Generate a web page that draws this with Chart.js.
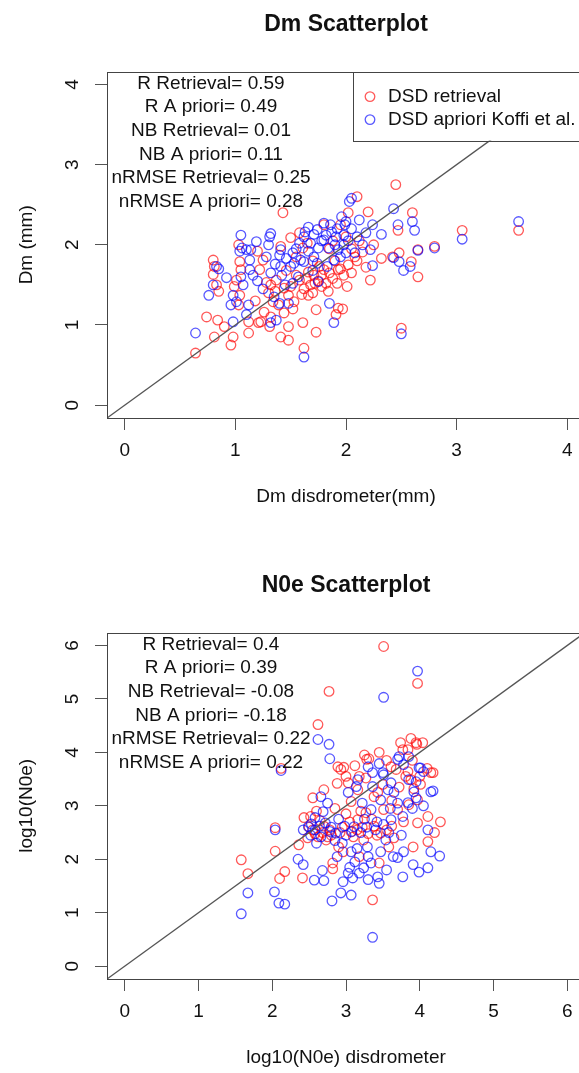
<!DOCTYPE html>
<html>
<head>
<meta charset="utf-8">
<script src="https://cdn.jsdelivr.net/npm/chart.js@4.4.1/dist/chart.umd.min.js"></script>
<style>
  html, body { margin: 0; padding: 0; background: #fff; overflow: hidden; width: 579px; height: 1073px; }
  canvas { position: absolute; left: 0; }
  #dmChart { top: 0; }
  #n0eChart { top: 561px; }
</style>
</head>
<body>
<canvas id="dmChart" width="600" height="560"></canvas>
<canvas id="n0eChart" width="600" height="560"></canvas>
<script>
// ---- Dm panel ----
const dmTicks = [0, 1, 2, 3, 4];
const dmRetrieval = [
  [0.64,0.65],[0.81,0.85],[0.74,1.1],[0.84,1.06],[0.96,0.75],[0.98,0.85],[0.9,0.98],[0.8,1.81],[0.81,1.73],[0.8,1.63],
  [0.83,1.5],[0.85,1.42],[1.03,2.0],[1.04,1.79],[1.05,1.69],[1.01,1.56],[0.99,1.48],[1.04,1.37],[1.03,1.25],[1.12,1.04],
  [1.12,0.9],[1.23,1.04],[1.2,1.92],[1.25,1.81],[1.22,1.69],[1.28,1.53],[1.3,1.4],[1.34,1.29],[1.32,1.1],[1.41,0.85],
  [1.48,0.81],[1.43,2.4],[1.62,0.71],[1.73,1.19],[1.73,0.91],[1.93,1.21],[1.91,1.13],[2.02,2.4],[1.58,2.15],[1.5,2.09],
  [1.41,1.98],[1.61,1.96],[1.55,1.85],[1.32,1.5],[1.37,1.56],[1.44,1.46],[1.5,1.48],[1.58,1.56],[1.66,1.66],[1.71,1.62],
  [1.76,1.73],[1.8,1.69],[1.85,1.65],[1.93,1.69],[1.98,1.62],[1.66,1.37],[1.7,1.4],[1.48,1.37],[1.53,1.29],[1.39,1.25],
  [1.44,1.15],[1.26,1.16],[1.21,1.03],[1.48,0.98],[1.31,0.98],[1.84,1.42],[1.78,1.48],[1.61,1.03],[1.75,1.55],[1.82,1.52],
  [1.88,1.58],[1.95,1.7],[1.68,1.5],[1.62,1.45],[1.9,1.8],[1.85,1.95],[1.7,1.8],[1.65,2.02],[1.95,2.25],[1.8,2.25],
  [2.45,2.75],[2.1,2.6],[2.2,2.41],[2.6,2.4],[2.47,2.18],[3.05,2.18],[3.56,2.18],[2.8,1.98],[2.48,1.9],[2.65,1.94],
  [2.32,1.83],[2.42,1.85],[2.59,1.79],[2.65,1.6],[2.22,1.56],[2.05,1.65],[2.01,1.48],[1.97,1.2],[2.5,0.96],[2.15,1.91],
  [2.05,1.95],[2.1,1.8],[2.0,2.1],[2.12,2.05],[1.55,1.62],[1.6,1.38],[1.64,1.58],[1.72,1.52],[1.78,1.62],[2.02,1.75],
  [2.08,1.85],[2.18,1.72],[1.92,1.52],[1.46,1.68],[1.36,1.42],[1.18,1.3],[1.52,1.2],[2.25,2.0],[1.88,2.05]
];
const dmApriori = [
  [0.64,0.9],[0.76,1.37],[0.8,1.5],[0.83,1.73],[0.85,1.7],[0.92,1.59],[0.98,1.37],[0.96,1.25],[1.01,1.29],[1.12,1.25],
  [1.1,1.13],[0.98,1.04],[1.05,2.12],[1.04,1.92],[1.1,1.94],[1.14,1.94],[1.19,2.04],[1.31,2.1],[1.32,2.14],[1.3,2.0],
  [1.13,1.81],[1.13,1.69],[1.05,1.6],[1.07,1.5],[1.41,1.94],[1.4,1.87],[1.41,1.73],[1.32,1.65],[1.35,1.35],[1.4,1.27],
  [1.37,1.06],[1.32,1.03],[1.48,1.27],[1.5,1.73],[1.53,1.77],[1.59,1.81],[1.62,2.1],[1.63,2.16],[1.71,2.13],[1.74,2.19],
  [1.8,2.27],[1.86,2.25],[1.87,2.16],[1.91,2.1],[1.98,2.12],[1.99,2.25],[2.0,2.29],[2.03,2.54],[1.8,2.06],[1.75,1.96],
  [1.84,1.96],[1.93,1.94],[1.98,2.0],[1.66,1.92],[1.62,1.79],[1.71,1.85],[1.74,1.77],[1.83,1.73],[1.89,1.81],[1.57,1.6],
  [1.75,1.54],[1.85,1.27],[1.89,1.03],[1.62,0.6],[1.06,1.96],[1.25,1.45],[1.2,1.55],[1.45,1.5],[1.55,1.95],[1.68,2.02],
  [1.95,1.85],[2.0,1.9],[1.78,2.05],[1.9,2.0],[2.05,2.58],[2.43,2.45],[2.12,2.31],[2.47,2.25],[2.6,2.29],[2.62,2.18],
  [3.05,2.07],[3.56,2.29],[2.8,1.96],[2.24,2.25],[2.32,2.13],[2.65,1.93],[2.43,1.84],[2.48,1.79],[2.58,1.73],[2.52,1.68],
  [2.24,1.74],[2.5,0.89],[2.22,1.94],[2.1,2.1],[2.15,2.0],[2.05,2.2],[2.08,1.9],[1.36,1.76],[1.42,1.62],[1.46,1.83],
  [1.52,1.9],[1.58,2.02],[1.66,2.22],[1.82,2.12],[1.92,2.2],[2.02,2.05],[1.96,2.35],[1.7,1.68],[1.28,1.85],[1.16,1.62],
  [1.52,1.52],[2.18,2.15]
];
const dmStats = [
  'R Retrieval= 0.59', 'R A priori= 0.49', 'NB Retrieval= 0.01',
  'NB A priori= 0.11', 'nRMSE Retrieval= 0.25', 'nRMSE A priori= 0.28'
];

// ---- N0e panel ----
const n0eTicks = [0, 1, 2, 3, 4, 5, 6];
const n0eRetrieval = [
  [1.58,1.99],[1.67,1.73],[2.04,2.59],[2.04,2.15],[2.17,1.77],[2.1,1.64],[2.12,3.7],[2.36,2.27],[2.41,1.65],[2.82,1.82],
  [3.36,1.24],[3.45,1.93],[3.91,2.23],[4.11,2.33],[4.28,2.7],[4.11,2.8],[3.97,2.68],[4.18,3.62],[4.04,4.18],[3.95,4.18],
  [3.74,4.18],[3.84,4.05],[3.45,4.0],[3.28,3.87],[2.93,3.68],[3.0,3.55],[2.7,3.3],[2.55,3.15],[2.43,2.78],[2.73,2.36],
  [2.9,2.23],[2.96,2.14],[3.07,2.51],[3.16,2.74],[3.27,2.87],[3.07,3.08],[3.03,3.43],[3.16,3.3],[3.27,3.52],[3.61,3.73],
  [3.84,3.64],[3.88,3.49],[3.97,3.11],[3.7,2.93],[3.78,2.7],[3.51,2.93],[3.38,3.17],[3.47,2.49],[3.58,2.23],[3.24,2.36],
  [3.18,2.05],[2.82,1.93],[2.62,4.52],[2.77,5.14],[3.51,5.98],[3.97,5.29],[2.89,3.73],[3.88,4.26],[3.96,4.15],[3.77,4.05],
  [3.31,3.88],[2.97,3.72],[4.15,3.62],[3.18,3.55],[3.68,3.68],[3.81,3.55],[4.01,3.4],[3.92,3.32],[3.43,3.25],[2.5,2.6],
  [2.58,2.48],[2.65,2.72],[2.78,2.55],[2.85,2.95],[2.6,2.9],[2.95,2.6],[3.0,2.85],[3.1,2.42],[3.22,2.6],[3.35,2.75],
  [3.42,2.45],[3.55,2.55],[3.62,3.1],[3.72,3.35],[3.9,3.85],[4.1,3.7],[3.5,3.4],[3.55,3.85],[3.25,3.95],[2.88,3.42],
  [2.75,2.42],[2.48,2.4],[3.65,2.4],[4.2,2.5],[3.12,3.75],[2.68,2.5],[2.55,2.55],[2.62,2.42],[2.7,2.62],[2.8,2.45],
  [2.92,2.5],[3.05,2.7],[3.15,2.55],[3.3,2.48],[3.38,2.62],[3.62,2.62],[3.85,3.02],[4.0,3.55],[2.52,2.8],[3.2,2.9]
];
const n0eApriori = [
  [1.58,0.98],[1.67,1.37],[2.03,1.39],[2.09,1.18],[2.17,1.16],[2.04,2.55],[2.12,3.66],[2.35,2.0],[2.42,1.9],[2.57,1.61],
  [2.7,1.6],[2.68,1.79],[2.81,1.22],[2.93,1.37],[3.07,1.33],[3.36,0.54],[2.96,1.58],[3.03,1.74],[3.09,1.65],[3.18,1.74],
  [3.24,1.84],[3.43,1.67],[3.34,1.93],[3.7,2.03],[3.77,1.67],[3.91,1.9],[3.99,1.76],[4.11,1.84],[4.15,2.14],[4.27,2.06],
  [3.78,2.14],[3.64,2.05],[4.11,2.55],[4.18,3.28],[2.62,4.24],[2.77,4.15],[2.78,3.88],[3.51,5.03],[3.97,5.52],[2.66,3.17],
  [2.53,2.66],[2.42,2.55],[2.69,2.89],[2.8,2.6],[2.86,2.49],[3.11,2.61],[3.34,2.93],[3.03,3.25],[3.16,3.49],[3.36,3.62],
  [3.51,3.58],[3.7,3.87],[3.78,3.77],[3.99,3.71],[4.05,3.64],[3.92,3.26],[3.84,3.06],[3.77,2.8],[3.61,2.74],[3.47,3.11],
  [3.57,3.3],[3.51,2.65],[3.54,2.36],[3.47,2.14],[3.29,2.23],[3.07,2.14],[2.66,2.42],[2.49,2.61],[3.85,3.92],[3.72,3.92],
  [3.45,3.79],[3.3,3.73],[4.01,3.71],[3.5,3.62],[4.15,3.26],[3.14,3.36],[3.85,3.49],[3.61,3.43],[3.36,3.36],[3.65,3.25],
  [2.58,2.55],[2.72,2.68],[2.9,2.75],[3.0,2.45],[3.2,2.5],[3.25,2.75],[3.4,2.55],[3.6,2.95],[3.75,2.45],[3.9,2.95],
  [2.95,2.3],[3.15,2.2],[2.6,2.3],[3.45,1.55],[3.3,2.05],[3.05,1.85],[3.55,1.8],[3.22,3.05],[2.75,3.05],[3.95,3.45],
  [4.05,3.0],[2.88,2.05],[2.52,2.45],[2.64,2.62],[2.78,2.52],[2.98,2.62],[3.08,2.52],[3.28,2.6],[3.42,2.7],[3.58,2.5],
  [3.7,3.05],[3.95,3.15],[2.85,2.35],[3.3,1.62],[3.12,1.95],[2.58,2.78]
];
const n0eStats = [
  'R Retrieval= 0.4', 'R A priori= 0.39', 'NB Retrieval= -0.08',
  'NB A priori= -0.18', 'nRMSE Retrieval= 0.22', 'nRMSE A priori= 0.22'
];

const legendLabels = ['DSD retrieval', 'DSD apriori Koffi et al.'];

const FONT = '"Liberation Sans", Arial, Helvetica, sans-serif';
const RED = 'rgba(255,0,0,0.65)';
const BLUE = 'rgba(0,0,255,0.65)';

// frame, stats text and (optionally) the legend, drawn R-style
function panelDecor(stats, withLegend) {
  return {
    id: 'panelDecor',
    afterDraw(chart) {
      const { ctx, chartArea: a } = chart;
      ctx.save();
      ctx.strokeStyle = '#444';
      ctx.lineWidth = 1;
      ctx.strokeRect(Math.round(a.left) + 0.5, Math.round(a.top) + 0.5,
        Math.round(a.right - a.left), Math.round(a.bottom - a.top));

      ctx.fillStyle = '#111';
      ctx.font = '19px ' + FONT;
      ctx.textAlign = 'center';
      ctx.textBaseline = 'middle';
      stats.forEach((s, i) => ctx.fillText(s, a.left + 104, a.top + 12 + i * 23.6));

      if (withLegend) {
        const lx = a.left + 246, ly = a.top, lh = 69;
        ctx.fillStyle = '#fff';
        ctx.fillRect(lx, ly, a.right - lx, lh);
        ctx.strokeRect(Math.round(lx) + 0.5, Math.round(ly) + 0.5, Math.round(a.right - lx), lh);
        [RED, BLUE].forEach((c, i) => {
          const cy = ly + 25 + i * 23;
          ctx.beginPath();
          ctx.strokeStyle = c;
          ctx.lineWidth = 1.3;
          ctx.arc(lx + 17, cy, 4.8, 0, Math.PI * 2);
          ctx.stroke();
          ctx.fillStyle = '#111';
          ctx.textAlign = 'left';
          ctx.fillText(legendLabels[i], lx + 35, cy);
        });
      }
      ctx.restore();
    }
  };
}

function makePanel(id, ticks, retrieval, apriori, stats, title, xTitle, yTitle, withLegend) {
  const span = ticks[ticks.length - 1] - ticks[0];
  const lo = ticks[0] - 0.04 * span;
  const hi = ticks[ticks.length - 1] + 0.04 * span;
  const toPts = arr => arr.map(([x, y]) => ({ x, y }));
  const pointStyle = c => ({
    borderColor: c, backgroundColor: 'rgba(0,0,0,0)', pointStyle: 'circle',
    pointRadius: 4.8, pointHoverRadius: 4.8, borderWidth: 1.3
  });
  const axisCommon = {
    type: 'linear', min: lo, max: hi,
    afterBuildTicks: s => { s.ticks = ticks.map(v => ({ value: v })); },
    grid: { drawOnChartArea: false, drawTicks: true, tickLength: 12, color: '#555', lineWidth: 1 },
    border: { display: false }
  };

  return new Chart(document.getElementById(id), {
    type: 'scatter',
    data: {
      datasets: [
        { label: '1:1', data: [{ x: lo, y: lo }, { x: hi, y: hi }], showLine: true,
          borderColor: '#555', borderWidth: 1.3, pointRadius: 0, order: 0 },
        Object.assign({ label: legendLabels[1], data: toPts(apriori), order: 1 }, pointStyle(BLUE)),
        Object.assign({ label: legendLabels[0], data: toPts(retrieval), order: 2 }, pointStyle(RED))
      ]
    },
    options: {
      responsive: false,
      animation: false,
      layout: { padding: { left: 0, right: 15, top: 0, bottom: 0 } },
      plugins: {
        legend: { display: false },
        tooltip: { enabled: false },
        title: {
          display: true, text: title, fullSize: false, color: '#111',
          font: { family: FONT, size: 23, weight: 'bold' },
          padding: { top: 11, bottom: 33 }
        }
      },
      scales: {
        x: Object.assign({}, axisCommon, {
          position: 'bottom',
          afterFit: s => { s.height = 142; },
          ticks: { font: { family: FONT, size: 19 }, color: '#111', padding: 9, maxRotation: 0 },
          title: { display: true, text: xTitle, color: '#111', font: { family: FONT, size: 19 },
                   padding: { top: 0, bottom: 52 } }
        }),
        y: Object.assign({}, axisCommon, {
          position: 'left',
          afterFit: s => { s.width = 107; },
          ticks: { font: { family: FONT, size: 19 }, color: '#111', padding: 17,
                   minRotation: 90, maxRotation: 90, crossAlign: 'center' },
          title: { display: true, text: yTitle, color: '#111', font: { family: FONT, size: 19 },
                   padding: { top: 15, bottom: 0 } }
        })
      }
    },
    plugins: [panelDecor(stats, withLegend)]
  });
}

makePanel('dmChart', dmTicks, dmRetrieval, dmApriori, dmStats,
  'Dm Scatterplot', 'Dm disdrometer(mm)', 'Dm (mm)', true);
makePanel('n0eChart', n0eTicks, n0eRetrieval, n0eApriori, n0eStats,
  'N0e Scatterplot', 'log10(N0e) disdrometer', 'log10(N0e)', false);
</script>
</body>
</html>
